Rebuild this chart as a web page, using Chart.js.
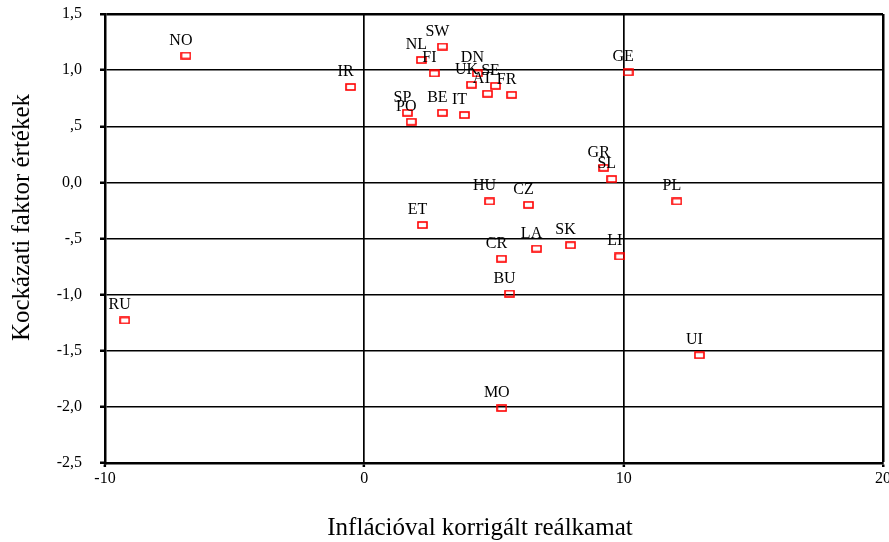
<!DOCTYPE html>
<html>
<head>
<meta charset="utf-8">
<script src="https://cdn.jsdelivr.net/npm/chart.js@4/dist/chart.umd.min.js"></script>
<style>
  html, body { margin: 0; padding: 0; background: #fff; }
  canvas { display: block; }
</style>
</head>
<body>
<canvas id="riskChart" width="889" height="542"></canvas>
<script>
// country codes and their values
const countries = ['NO', 'IR', 'RU', 'SW', 'NL', 'FI', 'DN', 'UK', 'SE', 'AT', 'FR', 'SP', 'PO', 'BE', 'IT',
  'GE', 'GR', 'SL', 'PL', 'LI', 'HU', 'CZ', 'ET', 'LA', 'SK', 'CR', 'BU', 'UI', 'MO'];
const realRate = [-6.88, -0.53, -9.24, 3.01, 2.20, 2.70, 4.36, 4.13, 5.06, 4.75, 5.68, 1.66, 1.81, 3.01, 3.86,
  10.17, 9.23, 9.54, 12.05, 9.85, 4.83, 6.33, 2.24, 6.64, 7.95, 5.29, 5.60, 12.92, 5.30];
const riskFactor = [1.13, 0.85, -1.23, 1.21, 1.09, 0.97, 0.97, 0.87, 0.86, 0.79, 0.78, 0.62, 0.54, 0.62, 0.60,
  0.98, 0.13, 0.03, -0.17, -0.66, -0.17, -0.20, -0.38, -0.59, -0.56, -0.68, -0.99, -1.54, -2.01];

const xTickValues = [-10, 0, 10, 20];
const yTickValues = [1.5, 1.0, 0.5, 0.0, -0.5, -1.0, -1.5, -2.0, -2.5];
const yTickLabels = ['1,5', '1,0', ',5', '0,0', '-,5', '-1,0', '-1,5', '-2,0', '-2,5'];

const xTitle = 'Inflációval korrigált reálkamat';
const yTitle = 'Kockázati faktor értékek';

const serif = 'Liberation Serif';

// hollow red rectangle marker
const marker = document.createElement('canvas');
marker.width = 11;
marker.height = 8;
const mctx = marker.getContext('2d');
mctx.strokeStyle = '#ff0000';
mctx.lineWidth = 1.6;
mctx.strokeRect(1, 1, 9, 6);

// labels next to each point
const pointLabels = {
  id: 'pointLabels',
  afterDatasetsDraw(chart) {
    const ctx = chart.ctx;
    const meta = chart.getDatasetMeta(0);
    ctx.save();
    ctx.font = '16px "' + serif + '"';
    ctx.fillStyle = '#000';
    ctx.textAlign = 'center';
    ctx.textBaseline = 'alphabetic';
    meta.data.forEach((el, i) => {
      ctx.fillText(countries[i], el.x - 5, el.y - 11);
    });
    ctx.restore();
  }
};

// axis titles
const axisTitles = {
  id: 'axisTitles',
  afterDraw(chart) {
    const ctx = chart.ctx;
    const area = chart.chartArea;
    ctx.save();
    ctx.font = '25px "' + serif + '"';
    ctx.fillStyle = '#000';
    ctx.textAlign = 'center';
    ctx.textBaseline = 'middle';
    ctx.fillText(xTitle, (area.left + area.right) / 2 - 14, area.bottom + 65);
    ctx.translate(22, (area.top + area.bottom) / 2 - 21);
    ctx.rotate(-Math.PI / 2);
    ctx.fillText(yTitle, 0, 0);
    ctx.restore();
  }
};

const ctx = document.getElementById('riskChart').getContext('2d');
new Chart(ctx, {
  type: 'scatter',
  data: {
    datasets: [{
      data: realRate.map((x, i) => ({ x: x, y: riskFactor[i] })),
      pointStyle: marker,
      pointRadius: 5,
      pointHoverRadius: 5
    }]
  },
  options: {
    responsive: false,
    animation: false,
    events: [],
    layout: { padding: { top: 14, right: 5, left: 0, bottom: 0 } },
    plugins: {
      legend: { display: false },
      tooltip: { enabled: false }
    },
    scales: {
      x: {
        type: 'linear',
        min: -10,
        max: 20,
        afterBuildTicks: (scale) => { scale.ticks = xTickValues.map(v => ({ value: v })); },
        afterFit: (scale) => { scale.height = 79; scale.paddingLeft = 0; scale.paddingRight = 0; },
        ticks: {
          color: '#000',
          font: { family: serif, size: 16 },
          padding: 2,
          maxRotation: 0,
          autoSkip: false
        },
        grid: {
          color: '#000',
          lineWidth: (c) => (c.tick && c.tick.value === 20 ? 2.5 : 1.7),
          tickLength: 4,
          tickWidth: 2.5,
          tickColor: '#000'
        },
        border: { color: '#000', width: 2.5 }
      },
      y: {
        type: 'linear',
        min: -2.5,
        max: 1.5,
        afterBuildTicks: (scale) => { scale.ticks = yTickValues.map(v => ({ value: v })); },
        afterFit: (scale) => { scale.width = 105; scale.paddingTop = 0; scale.paddingBottom = 0; },
        ticks: {
          color: '#000',
          font: { family: serif, size: 16 },
          padding: 18,
          autoSkip: false,
          callback: (value) => {
            const i = yTickValues.findIndex(v => Math.abs(v - value) < 1e-6);
            return i >= 0 ? yTickLabels[i] : '';
          }
        },
        grid: {
          color: '#000',
          lineWidth: (c) => (c.tick && c.tick.value === 1.5 ? 2.5 : 1.5),
          tickLength: 5,
          tickWidth: 2.5,
          tickColor: '#000'
        },
        border: { color: '#000', width: 2.5 }
      }
    }
  },
  plugins: [pointLabels, axisTitles]
});
</script>
</body>
</html>
